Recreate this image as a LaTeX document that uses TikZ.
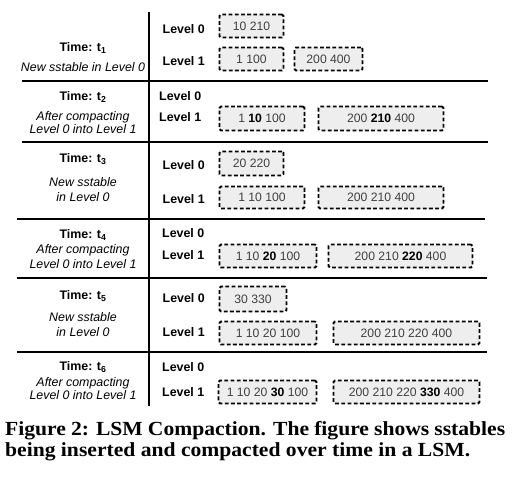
\documentclass[tikz,border=0pt]{standalone}
\usepackage{fontspec}
\setmainfont{Liberation Sans}
\newfontfamily\capfont[FakeStretch=1.08]{Liberation Serif}
\newcommand\hlnum[1]{\textcolor{black}{\bfseries #1}}
\begin{document}
\begin{tikzpicture}[x=1pt,y=-1pt,
  lbl/.style={font=\fontsize{12.4}{14}\selectfont\bfseries, inner sep=0pt, anchor=base west},
  tim/.style={font=\fontsize{12.4}{14}\selectfont\bfseries, inner sep=0pt, anchor=base},
  note/.style={font=\fontsize{12.4}{14}\selectfont\itshape, inner sep=0pt, anchor=base},
  sst/.style={draw, dash pattern=on 3.8pt off 2.4pt, line width=1.9pt, fill=gray!13,
    rounded corners=1.5pt, inner sep=0pt, font=\fontsize{12.2}{14}\selectfont, text=black!75},
  rule/.style={line width=2pt},
  captext/.style={font=\capfont\bfseries\fontsize{20}{22}\selectfont, inner sep=0pt, anchor=base west}]
\useasboundingbox (0,0) rectangle (514,477);

% rules
\draw[rule] (149,12) -- (149,406);
\draw[rule] (22,81) -- (488,81);
\draw[rule] (22,141.5) -- (488,141.5);
\draw[rule] (17,219) -- (485,219);
\draw[rule] (17,278.3) -- (487,278.3);
\draw[rule] (17,352.3) -- (487,352.3);

% row 1
\node[tim] (t1) at (83,51.7) {Time: t\textsubscript{1}};
\node[note] (n1) at (83,71) {New sstable in Level 0};
\node[lbl] (r1l0) at (162.5,33.3) {Level 0};
\node[lbl] (r1l1) at (162.5,65.7) {Level 1};
\node[sst, minimum width=64pt, minimum height=23pt] (r1a) at (251.5,26) {10 210};
\node[sst, minimum width=64pt, minimum height=23pt] (r1b) at (251.5,59) {1 100};
\node[sst, minimum width=68pt, minimum height=23pt] (r1c) at (328.5,59) {200 400};

% row 2
\node[tim] (t2) at (83,100.7) {Time: t\textsubscript{2}};
\node[note] (n2a) at (83,120) {After compacting};
\node[note] (n2b) at (83,133.3) {Level 0 into Level 1};
\node[lbl] (r2l0) at (159,100) {Level 0};
\node[lbl] (r2l1) at (159,121.7) {Level 1};
\node[sst, minimum width=85pt, minimum height=24pt] (r2b) at (262,118.5) {1 \hlnum{10} 100};
\node[sst, minimum width=125pt, minimum height=24pt] (r2c) at (381,118.5) {200 \hlnum{210} 400};

% row 3
\node[tim] (t3) at (83,162.7) {Time: t\textsubscript{3}};
\node[note] (n3a) at (83,186) {New sstable};
\node[note] (n3b) at (83,201) {in Level 0};
\node[lbl] (r3l0) at (162.5,169.3) {Level 0};
\node[lbl] (r3l1) at (162.5,203.3) {Level 1};
\node[sst, minimum width=64pt, minimum height=24pt] (r3a) at (251.5,163.5) {20 220};
\node[sst, minimum width=85pt, minimum height=22pt] (r3b) at (262,197.5) {1 10 100};
\node[sst, minimum width=125pt, minimum height=22pt] (r3c) at (381,197.5) {200 210 400};

% row 4
\node[tim] (t4) at (83,238.3) {Time: t\textsubscript{4}};
\node[note] (n4a) at (83,253) {After compacting};
\node[note] (n4b) at (83,268.3) {Level 0 into Level 1};
\node[lbl] (r4l0) at (162,237.7) {Level 0};
\node[lbl] (r4l1) at (162,259) {Level 1};
\node[sst, minimum width=97pt, minimum height=23pt] (r4b) at (268,256) {1 10 \hlnum{20} 100};
\node[sst, minimum width=144pt, minimum height=23pt] (r4c) at (400.5,256) {200 210 \hlnum{220} 400};

% row 5
\node[tim] (t5) at (83,299.3) {Time: t\textsubscript{5}};
\node[note] (n5a) at (83,321.7) {New sstable};
\node[note] (n5b) at (83,336.7) {in Level 0};
\node[lbl] (r5l0) at (162.5,302.7) {Level 0};
\node[lbl] (r5l1) at (162.5,336.7) {Level 1};
\node[sst, minimum width=67pt, minimum height=25pt] (r5a) at (253,299) {30 330};
\node[sst, minimum width=97pt, minimum height=23pt] (r5b) at (268,333) {1 10 20 100};
\node[sst, minimum width=146pt, minimum height=23pt] (r5c) at (406.5,333) {200 210 220 400};

% row 6
\node[tim] (t6) at (83,370.7) {Time: t\textsubscript{6}};
\node[note] (n6a) at (83,386) {After compacting};
\node[note] (n6b) at (83,399.3) {Level 0 into Level 1};
\node[lbl] (r6l0) at (162,371.7) {Level 0};
\node[lbl] (r6l1) at (162,396.7) {Level 1};
\node[sst, minimum width=98pt, minimum height=23pt] (r6b) at (267.5,392) {1 10 20 \hlnum{30} 100};
\node[sst, minimum width=146pt, minimum height=23pt] (r6c) at (406.5,392) {200 210 220 \hlnum{330} 400};

% caption
\node[captext] (cap1) at (5,435) {\makebox[500pt][s]{Figure 2: LSM Compaction. The figure shows sstables}};
\node[captext] (cap2) at (5,456.7) {being inserted and compacted over time in a LSM.};
\end{tikzpicture}
\end{document}
